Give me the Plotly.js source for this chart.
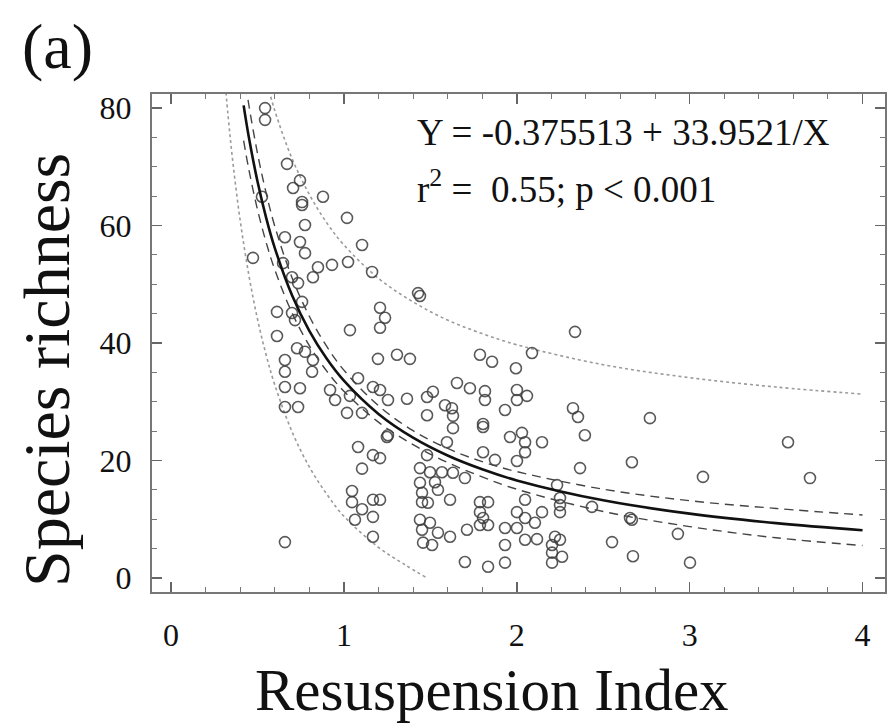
<!DOCTYPE html>
<html>
<head>
<meta charset="utf-8">
<script src="https://cdn.plot.ly/plotly-3.0.1.min.js"></script>
<style>html,body{margin:0;padding:0;background:#fff;}#chart{width:888px;height:727px;}</style>
</head>
<body>
<div id="chart"></div>
<script>
// Observed data: Resuspension Index (x) vs Species richness (y)
var obsX = [0.544,0.544,0.671,0.706,0.746,0.758,0.758,0.879,0.775,0.659,0.746,0.775,1.018,1.105,1.024,0.931,0.850,0.821,1.163,0.648,0.700,0.735,0.758,0.613,0.700,0.717,1.209,1.238,1.209,1.035,0.474,0.613,0.526,0.729,0.775,0.821,0.816,0.659,0.659,0.659,0.746,0.659,0.735,0.920,0.949,1.018,1.105,1.035,1.082,1.168,1.209,1.255,1.197,1.307,1.255,1.082,1.168,1.209,1.105,1.047,1.047,1.105,1.168,1.209,1.168,1.064,1.168,0.659,2.337,2.088,1.787,1.857,1.995,1.382,1.365,1.481,1.515,1.654,1.729,1.816,1.816,2.001,2.059,2.001,2.325,2.354,1.932,1.481,1.585,1.625,1.631,1.805,1.805,1.961,2.030,2.048,2.146,2.394,2.048,1.805,1.874,2.001,2.366,1.249,1.631,1.596,1.481,1.440,1.498,1.567,1.631,1.700,1.440,1.527,1.544,1.452,1.452,1.486,1.614,1.787,1.834,1.787,1.805,1.787,1.834,1.712,1.614,1.440,1.498,1.452,1.458,1.510,1.544,1.932,2.001,2.048,2.001,2.048,2.105,2.146,2.048,2.117,1.932,2.221,2.250,2.204,2.204,2.204,2.262,1.932,1.834,1.700,2.250,2.250,2.250,2.233,2.435,2.551,2.655,2.770,2.666,3.077,3.569,3.696,2.672,2.932,3.002,2.666,1.429,1.440];
var obsY = [80.0,78.0,70.5,66.4,67.7,64.0,63.5,64.9,60.1,58.0,57.2,55.3,61.3,56.7,53.8,53.3,52.9,51.2,52.1,53.6,51.2,50.2,47.0,45.3,45.1,43.9,46.0,44.3,42.6,42.2,54.5,41.2,64.9,39.1,38.5,37.1,35.1,37.1,35.1,32.5,32.3,29.1,29.1,32.0,30.3,28.1,28.1,31.0,34.0,32.5,32.0,30.3,37.3,38.0,24.3,22.3,20.9,20.4,18.6,14.8,12.9,11.7,13.3,13.3,10.4,9.9,7.0,6.1,41.9,38.3,38.0,36.8,35.7,37.3,30.5,30.8,31.7,33.2,32.3,31.8,30.3,32.0,31.0,30.3,28.9,27.4,28.6,27.7,29.4,28.9,27.6,25.7,26.2,24.0,24.7,23.1,23.1,24.3,21.4,21.4,20.1,19.9,18.7,24.0,25.5,23.1,20.9,18.7,18.0,18.0,17.9,17.0,16.2,16.3,15.0,14.5,12.9,12.8,13.3,12.9,12.9,11.2,10.2,9.0,9.0,8.2,7.0,9.9,9.4,8.2,6.0,5.6,7.7,8.5,8.5,13.3,11.2,10.2,9.4,11.2,6.5,6.6,5.6,7.0,6.5,5.6,4.3,2.6,3.6,2.6,1.9,2.7,13.6,12.4,11.2,15.8,12.1,6.1,10.2,27.2,19.7,17.2,23.1,17.0,3.7,7.5,2.6,9.9,48.5,48.0];

// Fitted curve Y = -0.375513 + 33.9521/X, sampled
var fitX = [0.42,0.45,0.5,0.55,0.6,0.7,0.8,0.9,1.0,1.2,1.4,1.6,1.8,2.0,2.5,3.0,3.5,4.0];
var fitY = [80.46,75.07,67.53,61.36,56.21,48.13,42.06,37.35,33.58,27.92,23.88,20.84,18.49,16.60,13.21,10.94,9.33,8.11];
// 95% confidence band (dashed)
var confUpY = [86.46,80.57,72.33,65.56,59.91,51.13,44.56,39.45,35.38,29.32,25.08,22.04,19.79,18.10,15.11,13.14,11.83,10.71];
var confLoY = [74.46,69.57,62.73,57.16,52.51,45.13,39.56,35.25,31.78,26.52,22.68,19.64,17.19,15.10,11.31,8.74,6.83,5.51];
// Prediction band (dotted)
var predUpX = [0.55,0.6,0.7,0.8,0.9,1.0,1.2,1.4,1.6,1.8,2.0,2.5,3.0,3.5,4.0];
var predUpY = [84.9,79.6,71.4,65.3,60.5,56.7,51.0,47.0,43.9,41.6,39.7,36.3,34.1,32.5,31.3];
var predLoX = [0.3,0.33,0.36,0.4,0.45,0.5,0.55,0.6,0.7,0.8,0.9,1.0,1.2,1.35,1.48];
var predLoY = [88.8,78.7,70.2,60.9,51.6,44.1,38.0,32.9,24.9,18.9,14.3,10.5,5.2,2.3,0.0];

var xTickVals = [0,1,2,3,4];
var yTickVals = [0,20,40,60,80];

var serif = 'Liberation Serif, Times New Roman, serif';

var traces = [
  {x: predUpX, y: predUpY, mode: 'lines', line: {color: '#9a9a9a', width: 1.6, dash: 'dot', shape: 'spline'}, hoverinfo: 'skip'},
  {x: predLoX, y: predLoY, mode: 'lines', line: {color: '#9a9a9a', width: 1.6, dash: 'dot', shape: 'spline'}, hoverinfo: 'skip'},
  {x: obsX, y: obsY, mode: 'markers', marker: {symbol: 'circle-open', size: 11, color: 'rgba(60,60,60,0.85)', line: {width: 1.6}}},
  {x: fitX, y: confUpY, mode: 'lines', line: {color: '#444', width: 1.4, dash: '9px,6px', shape: 'spline'}, hoverinfo: 'skip'},
  {x: fitX, y: confLoY, mode: 'lines', line: {color: '#444', width: 1.4, dash: '9px,6px', shape: 'spline'}, hoverinfo: 'skip'},
  {x: fitX, y: fitY, mode: 'lines', line: {color: '#111', width: 2.6, shape: 'spline'}, hoverinfo: 'skip'}
];

var layout = {
  width: 888, height: 727,
  margin: {l: 152, r: 3, t: 94, b: 135},
  paper_bgcolor: '#fff', plot_bgcolor: '#fff',
  showlegend: false,
  font: {family: serif, color: '#111'},
  xaxis: {
    range: [-0.11, 4.13], tickvals: xTickVals, ticktext: xTickVals.map(String),
    ticks: 'inside', ticklen: 10, tickwidth: 1.5, tickcolor: '#666',
    minor: {dtick: 0.2, ticks: 'inside', ticklen: 5, tickcolor: '#777', tickwidth: 1},
    showline: true, linecolor: '#777', linewidth: 2, mirror: 'allticks',
    showgrid: false, zeroline: false,
    tickfont: {family: serif, size: 32, color: '#111'},
    ticklabelstandoff: 14
  },
  yaxis: {
    range: [-2.4, 82.4], tickvals: yTickVals, ticktext: yTickVals.map(String),
    ticks: 'inside', ticklen: 10, tickwidth: 1.5, tickcolor: '#666',
    minor: {dtick: 5, ticks: 'inside', ticklen: 5, tickcolor: '#777', tickwidth: 1},
    showline: true, linecolor: '#777', linewidth: 2, mirror: 'allticks',
    showgrid: false, zeroline: false,
    tickfont: {family: serif, size: 32, color: '#111'},
    ticklabelstandoff: 12
  },
  annotations: [
    {xref: 'paper', yref: 'paper', x: 0.359, y: 0.922, xanchor: 'left', yanchor: 'middle', showarrow: false,
     text: 'Y = -0.375513 + 33.9521/X', font: {family: serif, size: 37, color: '#111'}},
    {xref: 'paper', yref: 'paper', x: 0.359, y: 0.815, xanchor: 'left', yanchor: 'middle', showarrow: false,
     text: 'r<sup>2</sup> =  0.55; p &lt; 0.001', font: {family: serif, size: 37, color: '#111'}},
    {xref: 'paper', yref: 'paper', x: -0.18, y: 1.095, xanchor: 'left', yanchor: 'middle', showarrow: false,
     text: '(a)', font: {family: serif, size: 64, color: '#111'}},
    {xref: 'paper', yref: 'paper', x: 0.464, y: -0.197, xanchor: 'center', yanchor: 'middle', showarrow: false,
     text: 'Resuspension Index', font: {family: serif, size: 59, color: '#111'}},
    {xref: 'paper', yref: 'paper', x: -0.143, y: 0.446, xanchor: 'center', yanchor: 'middle', showarrow: false,
     textangle: -90, text: 'Species richness', font: {family: serif, size: 66, color: '#111'}}
  ]
};

Plotly.newPlot('chart', traces, layout, {displayModeBar: false, staticPlot: true});
</script>
</body>
</html>
